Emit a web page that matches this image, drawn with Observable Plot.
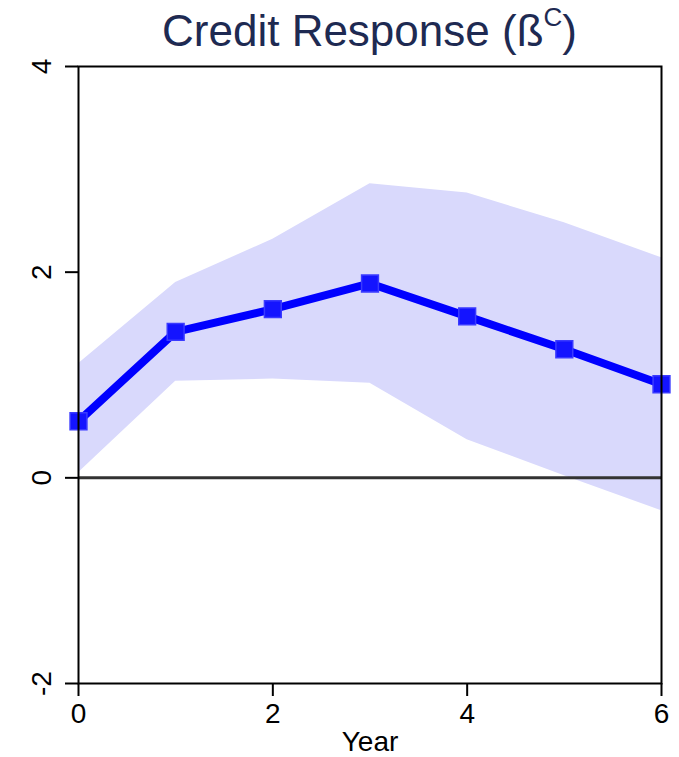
<!DOCTYPE html>
<html>
<head>
<meta charset="utf-8">
<script src="https://cdn.jsdelivr.net/npm/d3@7"></script>
<script src="https://cdn.jsdelivr.net/npm/@observablehq/plot@0.6"></script>
<style>
  html, body { margin: 0; padding: 0; background: #fff; overflow: hidden; }
  #title {
    box-sizing: border-box; width: 679px; height: 58px; padding-left: 60px; padding-top: 3px;
    text-align: center; font-family: "Liberation Sans", Arial, sans-serif; font-size: 44px;
    line-height: 56px; color: #1e2a52; white-space: nowrap;
  }
  #title sup { font-size: 26px; vertical-align: 20px; line-height: 0; }
  svg { display: block; }
</style>
</head>
<body>
<div id="title">Credit Response (ß<sup>C</sup>)</div>
<div id="chart"></div>
<script>
const years = [0, 1, 2, 3, 4, 5, 6];
const estimate = [0.55, 1.42, 1.64, 1.89, 1.57, 1.25, 0.91];
const upper = [1.11, 1.90, 2.32, 2.86, 2.77, 2.48, 2.14];
const lower = [0.05, 0.94, 0.96, 0.92, 0.37, 0.02, -0.32];
const xTicks = [0, 2, 4, 6];
const yTicks = [-2, 0, 2, 4];
const xLabel = "Year";

const data = years.map((y, i) => ({year: y, est: estimate[i], lo: lower[i], hi: upper[i]}));
const font = "Liberation Sans, Arial, sans-serif";

const chart = Plot.plot({
  width: 679,
  height: 699,
  marginTop: 8,
  marginBottom: 74,
  marginLeft: 78,
  marginRight: 18,
  style: {fontFamily: font, fontSize: "28px", color: "black", background: "white", overflow: "visible"},
  x: {domain: [0, 6], label: null},
  y: {domain: [-2, 4], label: null},
  marks: [
    Plot.areaY(data, {x: "year", y1: "lo", y2: "hi", fill: "#d9d9fc"}),
    Plot.ruleY([0], {stroke: "#333333", strokeWidth: 3}),
    Plot.line(data, {x: "year", y: "est", stroke: "#0000ff", strokeWidth: 8, strokeLinejoin: "round"}),
    Plot.dot(data, {x: "year", y: "est", symbol: "square", r: 9.5, fill: "#1414ff", stroke: "#3a3aff", strokeWidth: 1.5}),
    Plot.axisX({ticks: xTicks, tickSize: 13, tickPadding: 7, strokeWidth: 2, fontSize: 28, tickFormat: d => String(d), label: null}),
    Plot.axisY({ticks: yTicks, tickSize: 13, strokeWidth: 2, tickFormat: () => "", label: null}),
    Plot.text(yTicks, {y: d => d, text: d => String(d), frameAnchor: "left", dx: -28, rotate: -90,
      textAnchor: "middle", lineAnchor: "bottom", fontSize: 28, fill: "black"}),
    Plot.text([xLabel], {text: d => d, frameAnchor: "bottom", dy: 48, lineAnchor: "top", fontSize: 28, fill: "black"}),
    Plot.frame({stroke: "black", strokeWidth: 2})
  ]
});
document.getElementById("chart").appendChild(chart);
</script>
</body>
</html>
